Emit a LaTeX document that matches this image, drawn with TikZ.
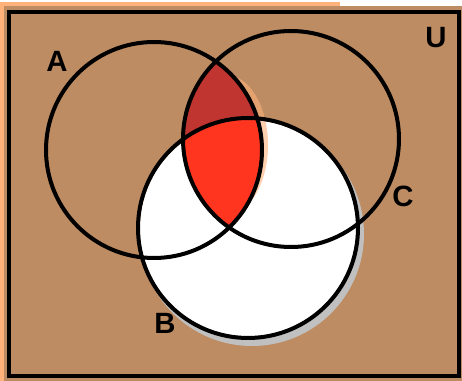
\documentclass[tikz,border=0pt]{standalone}
\usepackage{fontspec}
\setmainfont{Liberation Sans}
\definecolor{brownbg}{RGB}{189,140,98}
\definecolor{halo}{RGB}{255,178,122}
\definecolor{darkred}{RGB}{192,53,47}
\definecolor{brightred}{RGB}{255,53,32}
\definecolor{shadow}{RGB}{192,192,192}
\begin{document}
\begin{tikzpicture}[x=0.75pt,y=-0.75pt,
  setline/.style={line width=3pt,draw=black},
  setlabel/.style={font=\bfseries\fontsize{22}{22}\selectfont,text=black,inner sep=0pt}]
\useasboundingbox (0,0) rectangle (462,381);
\fill[white] (0,0) rectangle (462,381);
\fill[halo] (0,2) rectangle (340,14);
\fill[halo] (0,2) rectangle (14,381);
\fill[brownbg] (4,6) rectangle (462,381);
% coordinates
\coordinate (ca) at (154,150);
\coordinate (cc) at (291,139);
\coordinate (cb) at (248,228);
% shadow of B and white fill
\fill[shadow] (252,234) circle[radius=112];
\fill[white] (cb) circle[radius=108];
% halo around lens
\fill[halo, opacity=0.6] (226,145) ellipse[x radius=42,y radius=70];
% lens A cap C
\begin{scope}
  \clip (ca) circle[radius=108];
  \fill[darkred] (cc) circle[radius=108];
  \clip (cc) circle[radius=108];
  \fill[brightred] (cb) circle[radius=110];
\end{scope}
% circles
\draw[setline] (ca) circle[radius=108];
\draw[setline] (cc) circle[radius=108];
\draw[setline] (cb) circle[radius=110];
\draw[setline] (9,12) rectangle (459,376);
% labels
\node[setlabel] (la) at (57,61) {A};
\node[setlabel] (lu) at (436,38) {U};
\node[setlabel] (lc) at (403,196) {C};
\node[setlabel] (lb) at (165,323) {B};
\end{tikzpicture}
\end{document}
